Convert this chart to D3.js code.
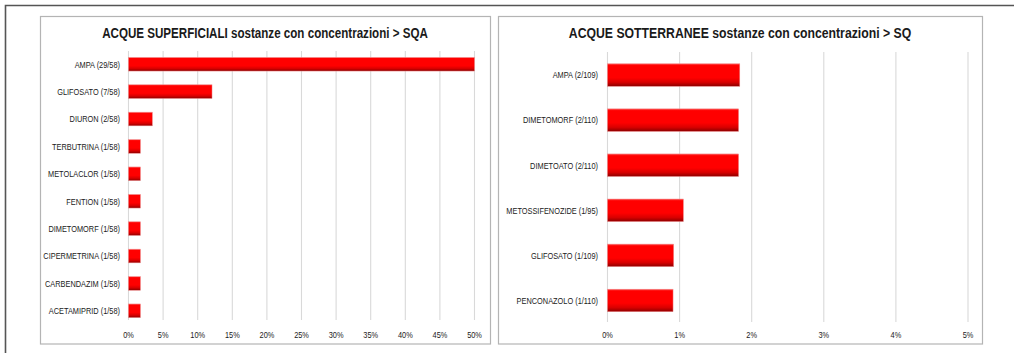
<!DOCTYPE html>
<html>
<head>
<meta charset="utf-8">
<script src="https://cdn.jsdelivr.net/npm/d3@7"></script>
<style>
  body { margin: 0; background: #fff; }
  svg { display: block; }
  text { font-family: "Liberation Sans Narrow", "Arial Narrow", "Liberation Sans", Arial, sans-serif; fill: #1a1a1a; }
</style>
</head>
<body>
<svg id="chart" width="1015" height="353"></svg>
<script>
// Surface waters: substances above the SQA, positives / samples analysed
const surfaceCategories = ["AMPA", "GLIFOSATO", "DIURON", "TERBUTRINA", "METOLACLOR", "FENTION",
                           "DIMETOMORF", "CIPERMETRINA", "CARBENDAZIM", "ACETAMIPRID"];
const surfacePositives = [29, 7, 2, 1, 1, 1, 1, 1, 1, 1];
const surfaceSamples   = [58, 58, 58, 58, 58, 58, 58, 58, 58, 58];
const surfaceTicks     = [0, 0.05, 0.10, 0.15, 0.20, 0.25, 0.30, 0.35, 0.40, 0.45, 0.50];

// Groundwaters: substances above the SQ
const groundCategories = ["AMPA", "DIMETOMORF", "DIMETOATO", "METOSSIFENOZIDE", "GLIFOSATO", "PENCONAZOLO"];
const groundPositives  = [2, 2, 2, 1, 1, 1];
const groundSamples    = [109, 110, 110, 95, 109, 110];
const groundTicks      = [0, 0.01, 0.02, 0.03, 0.04, 0.05];

// condensed lettering: horizontal squeeze around the anchor point
const SQUEEZE = 0.77;

const svg = d3.select("#chart");

// red cylinder-like shading used by every bar
const grad = svg.append("defs").append("linearGradient")
  .attr("id", "barFill").attr("x1", 0).attr("y1", 0).attr("x2", 0).attr("y2", 1);
[["0%", "#ff4a4a"], ["8%", "#ff0000"], ["62%", "#ff0000"], ["82%", "#d80000"], ["100%", "#8c0000"]]
  .forEach(([o, c]) => grad.append("stop").attr("offset", o).attr("stop-color", c));

svg.append("rect").attr("width", 1015).attr("height", 353).attr("fill", "#fff");

// outer frame (top and left edges visible)
svg.append("path")
  .attr("d", "M5.5,353 V5.5 H1014")
  .attr("fill", "none").attr("stroke", "#555").attr("stroke-width", 1.6);

function panel(cfg) {
  const g = svg.append("g");
  g.append("rect")
    .attr("x", cfg.box[0]).attr("y", cfg.box[1])
    .attr("width", cfg.box[2]).attr("height", cfg.box[3])
    .attr("fill", "#fff").attr("stroke", "#b4b4b4").attr("stroke-width", 1.2);

  const labels = cfg.cats.map((c, i) => `${c} (${cfg.pos[i]}/${cfg.n[i]})`);
  const values = cfg.pos.map((p, i) => p / cfg.n[i]);

  const x = d3.scaleLinear().domain([0, cfg.ticks[cfg.ticks.length - 1]]).range(cfg.xr);
  const y = d3.scaleBand().domain(labels).range(cfg.yr).paddingInner(0.5).paddingOuter(0.25);

  // vertical gridlines
  g.append("g").selectAll("line").data(cfg.ticks).join("line")
    .attr("x1", d => x(d) + 0.5).attr("x2", d => x(d) + 0.5)
    .attr("y1", cfg.grid[0]).attr("y2", cfg.grid[1])
    .attr("stroke", "#d9d9d9").attr("stroke-width", 1.1);

  // bars
  g.append("g").selectAll("rect").data(values).join("rect")
    .attr("x", x(0) + 0.5)
    .attr("y", (d, i) => y(labels[i]))
    .attr("width", d => x(d) - x(0))
    .attr("height", y.bandwidth())
    .attr("fill", "url(#barFill)")
    .attr("stroke", "#f08a8a").attr("stroke-width", 0.5);

  // category labels
  g.append("g").selectAll("text").data(labels).join("text")
    .attr("transform", d => `translate(${cfg.labelX},${y(d) + y.bandwidth() / 2}) scale(${SQUEEZE},1)`)
    .attr("dy", "0.35em")
    .attr("text-anchor", "end")
    .attr("font-size", 9.6)
    .text(d => d);

  // tick labels
  const fmt = d3.format(".0%");
  g.append("g").selectAll("text").data(cfg.ticks).join("text")
    .attr("transform", d => `translate(${x(d) + 0.5},338) scale(${SQUEEZE},1)`)
    .attr("text-anchor", "middle")
    .attr("font-size", 9.6)
    .text(d => fmt(d));

  // title
  g.append("text")
    .attr("transform", `translate(${cfg.titleX},38) scale(${cfg.titleSqueeze},1)`)
    .attr("text-anchor", "middle")
    .attr("font-size", 14.5)
    .attr("font-weight", "bold")
    .attr("fill", "#000")
    .text(cfg.title);
}

panel({
  box: [40.5, 16.5, 450, 327.5],
  cats: surfaceCategories, pos: surfacePositives, n: surfaceSamples, ticks: surfaceTicks,
  xr: [128, 474], yr: [50.5, 324.5], grid: [51, 320],
  labelX: 120,
  titleX: 265, titleSqueeze: 0.8, title: "ACQUE SUPERFICIALI sostanze con concentrazioni > SQA"
});

panel({
  box: [498.5, 16.5, 484, 327.5],
  cats: groundCategories, pos: groundPositives, n: groundSamples, ticks: groundTicks,
  xr: [607, 967.5], yr: [52.5, 323], grid: [52, 322],
  labelX: 598,
  titleX: 740, titleSqueeze: 0.845, title: "ACQUE SOTTERRANEE sostanze con concentrazioni > SQ"
});
</script>
</body>
</html>
